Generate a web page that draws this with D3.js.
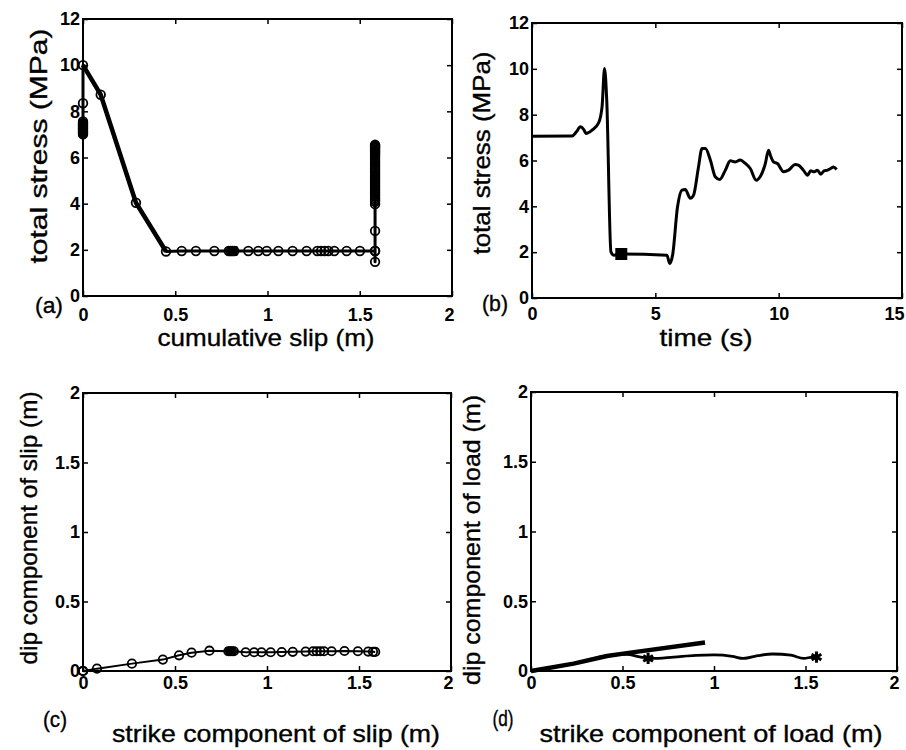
<!DOCTYPE html>
<html>
<head>
<meta charset="utf-8">
<script src="https://cdn.jsdelivr.net/npm/d3@7"></script>
<style>
  body { margin: 0; background: #fff; }
  svg text { font-family: "Liberation Sans", Arial, Helvetica, sans-serif; fill: #000; }
</style>
</head>
<body>
<script>
// (a) cumulative slip vs total stress
const slipA = [0, 0, 0, 0, 0, 0, 0, 0, 0, 0, 0, 0, 0, 0,
  0.096, 0.287, 0.45, 0.535, 0.612, 0.712, 0.79, 0.80, 0.81, 0.82,
  0.896, 0.95, 0.996, 1.059, 1.136, 1.212, 1.27, 1.29, 1.31, 1.33,
  1.362, 1.429, 1.501, 1.583, 1.583, 1.583, 1.583, 1.583,
  1.583, 1.583, 1.583, 1.583, 1.583, 1.583, 1.583, 1.583, 1.583, 1.583, 1.583, 1.583, 1.583,
  1.583, 1.583, 1.583, 1.583, 1.583, 1.583, 1.583, 1.583, 1.583, 1.583, 1.583, 1.583, 1.583,
  1.583, 1.583, 1.583, 1.583, 1.583, 1.583, 1.583, 1.583, 1.583, 1.583];
const stressA = [7.0, 7.05, 7.1, 7.15, 7.2, 7.25, 7.3, 7.35, 7.4, 7.45, 7.5, 7.56, 8.35, 10.0,
  8.72, 4.04, 1.93, 1.95, 1.95, 1.95, 1.95, 1.95, 1.95, 1.95,
  1.95, 1.95, 1.95, 1.95, 1.95, 1.95, 1.95, 1.95, 1.95, 1.95,
  1.95, 1.95, 1.95, 1.95, 1.48, 1.95, 2.82, 3.98,
  4.08, 4.16, 4.24, 4.32, 4.4, 4.48, 4.56, 4.64, 4.72, 4.8, 4.88, 4.96, 5.04,
  5.12, 5.2, 5.28, 5.36, 5.44, 5.52, 5.6, 5.68, 5.76, 5.84, 5.92, 6.0, 6.08,
  6.15, 6.2, 6.25, 6.3, 6.35, 6.4, 6.44, 6.48, 6.52, 6.55];
const squareA = [[0.81, 1.95]];

// (b) time vs total stress
const timeB = [0, 1.62, 1.8, 1.96, 2.1, 2.19, 2.43, 2.7, 2.84, 2.94, 3.03, 3.2, 3.31, 3.62,
  5.47, 5.58, 5.7, 5.9, 6.08, 6.21, 6.42, 6.55, 6.75, 6.89, 7.03, 7.23, 7.43, 7.61,
  7.84, 8.04, 8.24, 8.44, 8.65, 8.85, 9.09, 9.25, 9.46, 9.59, 9.66, 9.79, 9.95,
  10.2, 10.4, 10.67, 10.8, 11.0, 11.17, 11.3, 11.44, 11.57, 11.71, 11.84, 11.98,
  12.11, 12.22, 12.35];
const stressB = [7.06, 7.07, 7.25, 7.47, 7.35, 7.18, 7.32, 7.64, 8.34, 10.01, 8.63, 2.02, 1.87, 1.92,
  1.87, 1.51, 1.87, 3.98, 4.71, 4.74, 4.35, 4.49, 5.72, 6.52, 6.52, 6.02, 5.29, 5.17,
  5.58, 5.99, 5.94, 6.02, 5.87, 5.65, 5.14, 5.29, 5.87, 6.45, 6.24, 5.94, 5.87,
  5.51, 5.58, 5.83, 5.8, 5.58, 5.36, 5.55, 5.51, 5.58, 5.4, 5.55, 5.58,
  5.65, 5.72, 5.61];
const squareB = [[3.62, 1.92]];

// (c) strike vs dip component of slip
const strikeSlipC = [0, 0, 0, 0.076, 0.266, 0.434, 0.522, 0.59, 0.687, 0.79, 0.80, 0.81, 0.82,
  0.884, 0.93, 0.97, 1.02, 1.08, 1.14, 1.21, 1.25, 1.27, 1.29, 1.31,
  1.351, 1.421, 1.494, 1.55, 1.576, 1.588];
const dipSlipC = [0, 0, 0, 0.017, 0.053, 0.082, 0.113, 0.132, 0.146, 0.142, 0.142, 0.142, 0.142,
  0.135, 0.135, 0.135, 0.135, 0.136, 0.138, 0.14, 0.142, 0.142, 0.142, 0.142,
  0.142, 0.144, 0.142, 0.14, 0.138, 0.137];
const squareC = [[0.80, 0.142]];

// (d) strike vs dip component of load
const strikeLoadD1 = [0, 0.233, 0.415, 0.524, 0.951];
const dipLoadD1 = [0, 0.053, 0.108, 0.128, 0.204];
const strikeLoadD2 = [0, 0.233, 0.42, 0.52, 0.6, 0.66, 0.78, 0.9, 1.0, 1.1, 1.16, 1.24, 1.32, 1.42, 1.49, 1.54, 1.57];
const dipLoadD2 = [0, 0.053, 0.11, 0.12, 0.1, 0.09, 0.1, 0.112, 0.115, 0.105, 0.09, 0.11, 0.122, 0.113, 0.09, 0.1, 0.095];
const starsD = [[0.64, 0.09], [1.56, 0.1]];

const ticks2 = [0, 0.5, 1, 1.5, 2];
const ticks12 = [0, 2, 4, 6, 8, 10, 12];
const ticks15 = [0, 5, 10, 15];

const svg = d3.select('body').append('svg')
  .attr('width', 906)
  .attr('height', 750);

// one framed matlab-style axes box with inward ticks on all four sides
function panel(box, xDom, yDom, xTicks, yTicks, xPad) {
  const x = d3.scaleLinear().domain(xDom).range([box.left, box.right]);
  const y = d3.scaleLinear().domain(yDom).range([box.bottom, box.top]);
  const g = svg.append('g');
  const fmt = d => String(d);
  const style = sel => {
    sel.attr('font-size', 18).attr('font-family', null).attr('font-weight', 'bold');
    sel.select('.domain').remove();
    sel.selectAll('.tick line').attr('stroke', '#000').attr('stroke-width', 1.5);
  };
  const bottom = g.append('g').attr('transform', `translate(0,${box.bottom})`)
    .call(d3.axisBottom(x).tickValues(xTicks).tickSize(-5).tickPadding(xPad).tickFormat(fmt)).call(style);
  // the last x label sits flush with the right edge, as in the original
  bottom.select('.tick:last-of-type text').attr('text-anchor', 'end').attr('x', 2);
  g.append('g').attr('transform', `translate(0,${box.top})`)
    .call(d3.axisTop(x).tickValues(xTicks).tickSize(-5).tickFormat('')).call(style);
  g.append('g').attr('transform', `translate(${box.left},0)`)
    .call(d3.axisLeft(y).tickValues(yTicks).tickSize(-5).tickPadding(3).tickFormat(fmt)).call(style);
  g.append('g').attr('transform', `translate(${box.right},0)`)
    .call(d3.axisRight(y).tickValues(yTicks).tickSize(-5).tickFormat('')).call(style);
  g.append('rect')
    .attr('x', box.left).attr('y', box.top)
    .attr('width', box.right - box.left).attr('height', box.bottom - box.top)
    .attr('fill', 'none').attr('stroke', '#000').attr('stroke-width', 2);
  return { g, x, y };
}

function label(txt, cx, cy, len, rotate, size) {
  svg.append('text')
    .attr('transform', `translate(${cx},${cy})` + (rotate ? ' rotate(-90)' : ''))
    .attr('text-anchor', 'middle')
    .attr('font-size', size || 24)
    .attr('stroke', '#000')
    .attr('stroke-width', 0.35)
    .attr('textLength', len)
    .attr('lengthAdjust', 'spacingAndGlyphs')
    .text(txt);
}

function zip(xs, ys) { return xs.map((v, i) => [v, ys[i]]); }

function drawLine(p, pts, width, curve) {
  p.g.append('path')
    .datum(pts)
    .attr('fill', 'none')
    .attr('stroke', '#000')
    .attr('stroke-width', width)
    .attr('stroke-linejoin', 'round')
    .attr('d', d3.line().x(d => p.x(d[0])).y(d => p.y(d[1])).curve(curve || d3.curveLinear));
}

function drawCircles(p, pts, r) {
  p.g.append('g').selectAll('circle')
    .data(pts)
    .enter().append('circle')
    .attr('cx', d => p.x(d[0]))
    .attr('cy', d => p.y(d[1]))
    .attr('r', r)
    .attr('fill', 'none')
    .attr('stroke', '#000')
    .attr('stroke-width', 1.8);
}

function drawSquares(p, pts, w, h) {
  p.g.append('g').selectAll('rect')
    .data(pts)
    .enter().append('rect')
    .attr('x', d => p.x(d[0]) - w / 2)
    .attr('y', d => p.y(d[1]) - h / 2)
    .attr('width', w).attr('height', h)
    .attr('fill', '#000');
}

// (a)
const pa = panel({ left: 83, right: 452, top: 19, bottom: 296 }, [0, 2], [0, 12], ticks2, ticks12, 12);
const ptsA = zip(slipA, stressA);
drawLine(pa, ptsA.slice(13, 17), 4.5);
drawLine(pa, ptsA, 3);
drawCircles(pa, ptsA, 4.3);
drawSquares(pa, squareA, 10, 10);

// (b)
const pb = panel({ left: 532, right: 902, top: 23, bottom: 298 }, [0, 15], [0, 12], ticks15, ticks12, 9);
drawLine(pb, zip(timeB, stressB), 3, d3.curveMonotoneX);
drawSquares(pb, squareB, 12, 12);

// (c)
const pc = panel({ left: 83, right: 451, top: 393, bottom: 671 }, [0, 2], [0, 2], ticks2, [0, 0.5, 1, 1.5, 2], 5);
const ptsC = zip(strikeSlipC, dipSlipC);
drawLine(pc, ptsC, 2);
drawCircles(pc, ptsC, 4.2);
drawSquares(pc, squareC, 10, 8);

// (d)
const pd = panel({ left: 531, right: 897, top: 392, bottom: 671 }, [0, 2], [0, 2], ticks2, [0, 0.5, 1, 1.5, 2], 5);
drawLine(pd, zip(strikeLoadD1, dipLoadD1), 4.5);
drawLine(pd, zip(strikeLoadD2, dipLoadD2), 2.8, d3.curveMonotoneX);
pd.g.append('g').selectAll('path')
  .data(starsD)
  .enter().append('path')
  .attr('transform', d => `translate(${pd.x(d[0])},${pd.y(d[1])})`)
  .attr('d', d3.symbol(d3.symbolAsterisk, 90))
  .attr('fill', 'none')
  .attr('stroke', '#000')
  .attr('stroke-width', 3);

// axis titles
label('total stress (MPa)', 47, 146, 235, true);
label('total stress (MPa)', 490, 153, 203, true);
label('dip component of slip (m)', 37, 528, 273, true);
label('dip component of load (m)', 480, 540, 290, true);
label('cumulative slip (m)', 266, 346, 217, false);
label('time (s)', 706, 346, 93, false);
label('strike component of slip (m)', 276, 742, 328, false);
label('strike component of load (m)', 711, 742, 343, false);

// panel letters
label('(a)', 49, 313, 28, false, 22);
label('(b)', 495, 311, 26, false, 22);
label('(c)', 55, 727, 24, false, 22);
label('(d)', 503, 726, 21, false, 22);
</script>
</body>
</html>
